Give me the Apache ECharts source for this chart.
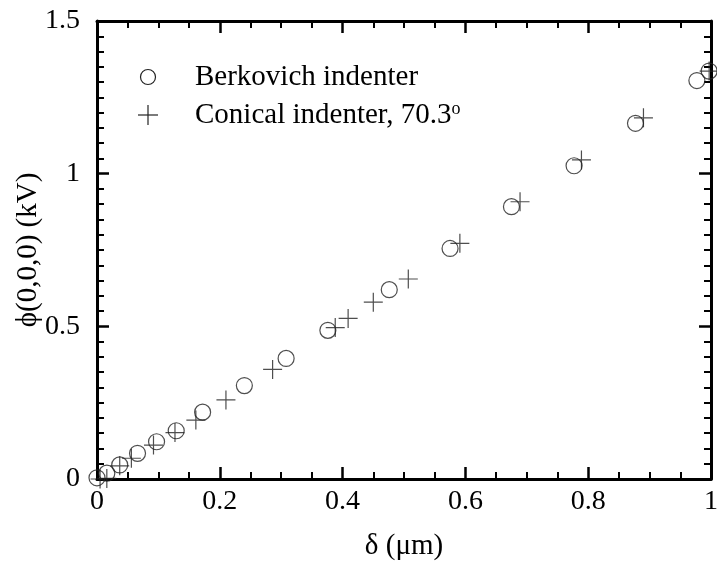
<!DOCTYPE html>
<html>
<head>
<meta charset="utf-8">
<script src="https://cdn.jsdelivr.net/npm/echarts@6/dist/echarts.min.js"></script>
<style>
html,body{margin:0;padding:0;background:#fff;}
#wrap{position:relative;width:717px;height:571px;}
#c,#o{position:absolute;left:0;top:0;width:717px;height:571px;}
</style>
</head>
<body>
<div id="wrap"><div id="c"></div><div id="o"></div></div>
<script>
var berkX = [0, 0.016, 0.037, 0.066, 0.097, 0.129, 0.172, 0.240, 0.308, 0.376, 0.476, 0.575, 0.675, 0.777, 0.877, 0.977, 0.997];
var berkY = [0.004, 0.019, 0.046, 0.084, 0.122, 0.158, 0.219, 0.306, 0.395, 0.487, 0.620, 0.755, 0.892, 1.026, 1.165, 1.305, 1.336];
var conX = [0.005, 0.016, 0.037, 0.056, 0.092, 0.127, 0.161, 0.210, 0.286, 0.388, 0.409, 0.450, 0.507, 0.591, 0.689, 0.789, 0.890, 0.997];
var conY = [0.0, 0.002, 0.043, 0.068, 0.111, 0.152, 0.193, 0.259, 0.359, 0.496, 0.526, 0.579, 0.655, 0.772, 0.908, 1.045, 1.183, 1.336];
var seriesNames = ['Berkovich indenter', 'Conical indenter, 70.3{sup|o}'];
var xTitle = 'δ (μm)';
var yTitle = 'ϕ(0,0,0) (kV)';

function pairs(xs, ys){ return xs.map(function(x,i){ return [x, ys[i]]; }); }

var FAMILY = 'Liberation Serif';
var FONT = '"Liberation Serif", "DejaVu Serif", serif';
var plusPath = 'path://M10,0L10,20M0,10L20,10';
function fmt(v){ return String(+v.toFixed(2)); }
function axisLine(idx){ return {show:true, onZero:true, onZeroAxisIndex:idx, lineStyle:{color:'#000', width:3}}; }
function tickMajor(){ return {show:true, inside:true, length:12, lineStyle:{color:'#000', width:2.5}}; }
function minor(n){ return {show:true, splitNumber:n, length:7, lineStyle:{color:'#000', width:2}}; }
function gridOpt(){ return {left:97, right:6, top:21, bottom:92, containLabel:false, outerBoundsMode:'none'}; }
function txt(x, y, s, extra){
  var st = {text:s, fontSize:29, fontFamily:FAMILY, fill:'#000', align:'left', verticalAlign:'middle',
            rich:{sup:{fontSize:18, fontFamily:FAMILY, fill:'#000', verticalAlign:'top', padding:[0,0,12,0]}}};
  var el = {type:'text', x:x, y:y, style:st, silent:true};
  if (extra) { for (var k in extra) { if (k === 'style') { for (var j in extra.style) st[j] = extra.style[j]; } else el[k] = extra[k]; } }
  return el;
}

// Base layer: frame, ticks, tick labels and the Berkovich series.
var chart = echarts.init(document.getElementById('c'), null, {renderer:'canvas'});
chart.setOption({
  animation:false,
  backgroundColor:'#fff',
  grid:gridOpt(),
  xAxis:[{
    type:'value', min:0, max:1, interval:0.2, position:'bottom',
    axisLine:axisLine(0), axisTick:tickMajor(), minorTick:minor(4),
    axisLabel:{fontFamily:FONT, fontSize:28, color:'#000', margin:9, formatter:fmt},
    splitLine:{show:false}
  },{
    type:'value', min:0, max:1, interval:0.2, position:'top', inverse:true,
    axisLine:axisLine(1), axisTick:tickMajor(), minorTick:minor(4),
    axisLabel:{show:false}, splitLine:{show:false}
  }],
  yAxis:[{
    type:'value', min:0, max:1.5, interval:0.5, position:'left',
    axisLine:axisLine(0), axisTick:tickMajor(), minorTick:minor(10),
    axisLabel:{fontFamily:FONT, fontSize:28, color:'#000', margin:17, formatter:fmt},
    splitLine:{show:false}
  },{
    type:'value', min:0, max:1.5, interval:0.5, position:'right', inverse:true,
    axisLine:axisLine(1), axisTick:tickMajor(), minorTick:minor(10),
    axisLabel:{show:false}, splitLine:{show:false}
  }],
  series:[{
    name:'Berkovich', type:'scatter', symbol:'circle', symbolSize:16,
    itemStyle:{color:'rgba(0,0,0,0)', borderColor:'#222', borderWidth:1.2},
    data:pairs(berkX, berkY)
  }]
});

// Overlay layer: same scales (hidden axes), the Conical series, titles and legend.
var hiddenAxis = function(max, interval){
  return {type:'value', min:0, max:max, interval:interval, show:true,
    axisLine:{show:false}, axisTick:{show:false}, axisLabel:{show:false}, splitLine:{show:false}};
};
var over = echarts.init(document.getElementById('o'), null, {renderer:'canvas'});
over.setOption({
  animation:false,
  backgroundColor:'transparent',
  grid:gridOpt(),
  xAxis:hiddenAxis(1, 0.2),
  yAxis:hiddenAxis(1.5, 0.5),
  graphic:{elements:[
    txt(404, 546, xTitle, {style:{align:'center'}}),
    txt(28, 250, yTitle, {rotation:Math.PI/2, style:{align:'center'}}),
    {type:'circle', shape:{cx:148, cy:77, r:7.5}, style:{fill:'none', stroke:'#222', lineWidth:1.2}, silent:true},
    {type:'line', shape:{x1:138, y1:115, x2:158, y2:115}, style:{stroke:'#222', lineWidth:1.2}, silent:true},
    {type:'line', shape:{x1:148, y1:105, x2:148, y2:125}, style:{stroke:'#222', lineWidth:1.2}, silent:true},
    txt(195, 77, seriesNames[0]),
    txt(195, 115, seriesNames[1])
  ]},
  series:[{
    name:'Conical', type:'scatter',
    symbol:plusPath, symbolSize:19,
    itemStyle:{color:'rgba(0,0,0,0)', borderColor:'#222', borderWidth:1.2},
    data:pairs(conX, conY)
  }]
});
</script>
</body>
</html>
